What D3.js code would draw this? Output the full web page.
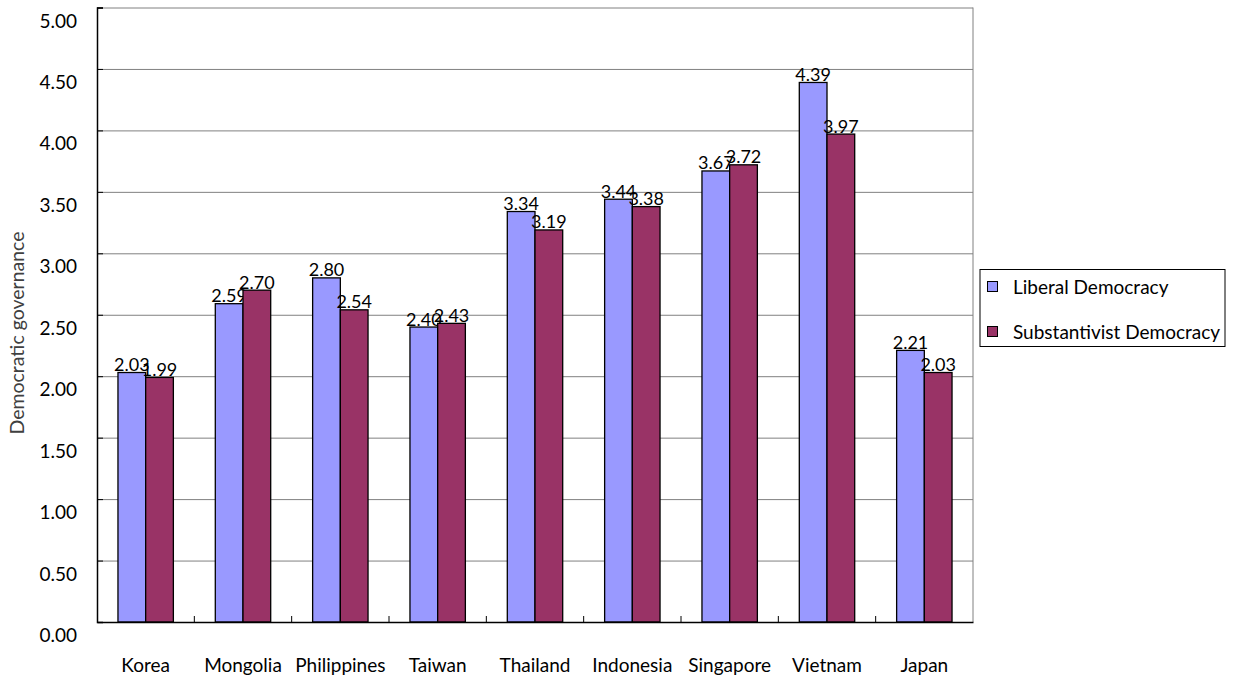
<!DOCTYPE html>
<html>
<head>
<meta charset="utf-8">
<script src="https://cdn.jsdelivr.net/npm/d3@7"></script>
<style>
  body { margin: 0; background: #fff; }
  text { font-family: Lato, "Open Sans", sans-serif; }
  .grid line { stroke: #808080; stroke-width: 1; }
  .grid path { display: none; }
</style>
</head>
<body>
<div id="chart"></div>
<script>
const countries = ["Korea", "Mongolia", "Philippines", "Taiwan", "Thailand", "Indonesia", "Singapore", "Vietnam", "Japan"];
const liberal = [2.03, 2.59, 2.80, 2.40, 3.34, 3.44, 3.67, 4.39, 2.21];
const substantivist = [1.99, 2.70, 2.54, 2.43, 3.19, 3.38, 3.72, 3.97, 2.03];
const seriesNames = ["Liberal Democracy", "Substantivist Democracy"];
const seriesColors = ["#9999FF", "#993366"];
const yTicks = [0, 0.5, 1, 1.5, 2, 2.5, 3, 3.5, 4, 4.5, 5];

const svgWidth = 1237, svgHeight = 679;
const plot = {left: 97, top: 7.5, right: 973, bottom: 622};

const svg = d3.select("#chart").append("svg")
  .attr("width", svgWidth).attr("height", svgHeight);

const x = d3.scaleBand().domain(countries).range([plot.left, plot.right]).paddingInner(0).paddingOuter(0);
const y = d3.scaleLinear().domain([0, 5]).range([plot.bottom, plot.top]);

// gridlines
svg.append("g").attr("class", "grid")
  .attr("transform", "translate(" + plot.left + ",0)")
  .call(d3.axisRight(y).tickValues(yTicks.slice(1)).tickSize(plot.right - plot.left).tickFormat(""));

// right border
svg.append("line").attr("x1", plot.right).attr("x2", plot.right)
  .attr("y1", plot.top).attr("y2", plot.bottom).attr("stroke", "#808080");

// bars
const barW = 27.7;
const data = countries.map((c, i) => ({c, vals: [liberal[i], substantivist[i]]}));
const groups = svg.append("g").selectAll("g").data(data).join("g");
groups.each(function(d) {
  const cx = x(d.c) + x.bandwidth() / 2;
  d.vals.forEach((v, k) => {
    const bx = cx - barW + k * barW;
    d3.select(this).append("rect")
      .attr("x", bx).attr("y", y(v))
      .attr("width", barW).attr("height", y(0) - y(v))
      .attr("fill", seriesColors[k]).attr("stroke", "#000").attr("stroke-width", 1.3);
    d3.select(this).append("text")
      .attr("x", bx + barW / 2).attr("y", y(v) - 1.5)
      .attr("text-anchor", "middle").attr("font-size", 18)
      .text(v.toFixed(2));
  });
});

// y axis
const yAxis = svg.append("g").attr("transform", "translate(" + plot.left + ",0)")
  .call(d3.axisRight(y).tickValues(yTicks).tickSize(6).tickFormat(""));
yAxis.select(".domain").attr("stroke", "#000").attr("stroke-width", 1.5);
yAxis.selectAll(".tick line").attr("stroke", "#000");
svg.append("g").selectAll("text").data(yTicks).join("text")
  .attr("x", 77).attr("y", d => y(d) + 20)
  .attr("text-anchor", "end").attr("font-size", 19)
  .text(d => d.toFixed(2));

// x axis
const xAxis = svg.append("g").attr("transform", "translate(0," + plot.bottom + ")")
  .call(d3.axisTop(x).tickSize(0).tickFormat(""));
xAxis.select(".domain").attr("stroke", "#000").attr("stroke-width", 1.5);
svg.append("g").selectAll("line").data(countries.slice(1)).join("line")
  .attr("x1", d => x(d)).attr("x2", d => x(d))
  .attr("y1", plot.bottom).attr("y2", plot.bottom - 6)
  .attr("stroke", "#000");
svg.append("g").selectAll("text").data(countries).join("text")
  .attr("x", d => x(d) + x.bandwidth() / 2).attr("y", 672)
  .attr("text-anchor", "middle").attr("font-size", 19)
  .text(d => d);

// y label
svg.append("text")
  .attr("transform", "translate(24,333)rotate(-90)")
  .attr("text-anchor", "middle").attr("font-size", 19.5)
  .attr("fill", "#404040")
  .text("Democratic governance");

// legend
const lg = svg.append("g");
lg.append("rect").attr("x", 980).attr("y", 269.5).attr("width", 245).attr("height", 77)
  .attr("fill", "#fff").attr("stroke", "#000");
seriesNames.forEach((n, k) => {
  const ly = 286.5 + k * 45;
  lg.append("rect").attr("x", 987.5).attr("y", ly - 5).attr("width", 10).attr("height", 10)
    .attr("fill", seriesColors[k]).attr("stroke", "#000");
  lg.append("text").attr("x", 1013).attr("y", ly + 7).attr("font-size", 19).text(n);
});
</script>
</body>
</html>
